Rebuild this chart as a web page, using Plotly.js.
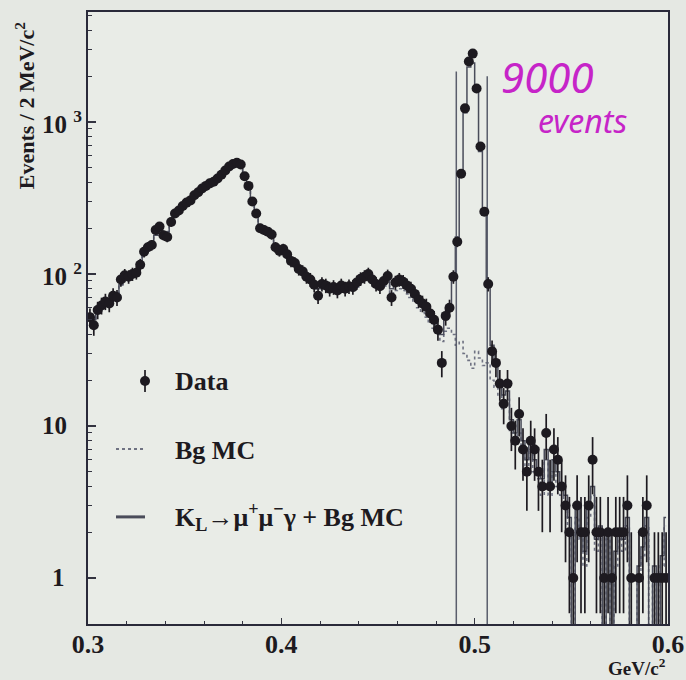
<!DOCTYPE html>
<html><head><meta charset="utf-8">
<script src="https://cdn.plot.ly/plotly-3.0.1.min.js"></script>
<style>html,body{margin:0;padding:0;background:#e5e8e3;} #chart{width:686px;height:680px;}</style>
</head><body><div id="chart"></div>
<script>
// Histogram binning: 2 MeV/c^2 bins from 0.300 to 0.600 GeV/c^2
const binStart = 0.300, binWidth = 0.002, nBins = 150;
const massBins = Array.from({length: nBins}, (_, i) => +(binStart + binWidth * (i + 0.5)).toFixed(4));

// Data: events per bin (null = empty bin)
const dataCounts = [
  52, 46, 58, 62, 66, 64, 72, 70, 92, 98,
  96, 100, 102, 115, 140, 150, 155, 195, 205, 180,
  175, 220, 250, 262, 280, 295, 305, 330, 345, 365,
  380, 395, 405, 425, 450, 480, 510, 530, 540, 525,
  440, 380, 300, 250, 200, 195, 190, 182, 150, 142,
  146, 135, 122, 118, 108, 104, 96, 92, 85, 72,
  86, 84, 80, 82, 78, 84, 80, 83, 82, 88,
  93, 96, 100, 92, 86, 83, 90, 97, 70, 88,
  92, 89, 84, 80, 74, 68, 64, 61, 55, 50,
  43, 26, 53, 60, 96, 163, 457, 1230, 2500, 2820,
  1660, 690, 257, 86, 31, 26, 19, 14, 19, 10,
  8, 12, 7, 5, 8, 7, 5, 4, 9, 4,
  7, 6, 4, 3, 2, 1, 3, 2, 2, 3,
  6, 2, 2, 1, 2, 1, 2, 2, 2, 3,
  1, null, 1, 2, 3, null, 1, 1, 1, 1
];

// K_L -> mu+ mu- gamma + Bg MC (solid histogram)
const mcTotal = [
  50, 50, 55, 60, 63, 66, 68, 75, 85, 95,
  98, 100, 105, 118, 135, 148, 160, 180, 195, 190,
  190, 215, 240, 258, 275, 290, 305, 325, 345, 362,
  378, 392, 405, 425, 450, 478, 505, 525, 535, 520,
  450, 380, 300, 240, 200, 192, 186, 178, 155, 145,
  140, 132, 122, 115, 108, 102, 96, 90, 86, 80,
  82, 83, 81, 80, 80, 82, 82, 83, 84, 86,
  90, 95, 98, 94, 88, 86, 90, 92, 80, 86,
  90, 88, 84, 80, 75, 70, 66, 62, 57, 50,
  45, 40, 50, 62, 100, 175, 450, 1150, 2300, 2450,
  1650, 640, 250, 85, 34, 26, 20, 16, 17, 11,
  9, 11, 8, 6, 8, 6, 5, 4.5, 7, 4,
  6, 5, 4, 3.5, 2.5, 0.3, 3, 2, 1.5, 3,
  4, 1.8, 2.2, 0.3, 2, 0.3, 1.5, 2, 1.8, 2.5,
  0.3, 0.3, 1.2, 1.6, 2.5, 0.3, 1.2, 0.3, 1.4, 2.5
];

// Bg MC (dotted histogram)
const mcBg = [
  50, 50, 55, 60, 63, 66, 68, 75, 85, 95,
  98, 100, 105, 118, 135, 148, 160, 180, 195, 190,
  190, 215, 240, 258, 275, 290, 305, 325, 345, 362,
  378, 392, 405, 425, 450, 478, 505, 525, 535, 520,
  450, 380, 300, 240, 200, 192, 186, 178, 155, 145,
  140, 132, 122, 115, 108, 102, 96, 90, 86, 80,
  80, 81, 79, 78, 78, 80, 80, 80, 81, 82,
  86, 90, 92, 88, 82, 80, 83, 85, 74, 78,
  80, 78, 74, 70, 65, 60, 56, 52, 48, 44,
  40, 36, 42, 44, 40, 34, 36, 30, 27, 24,
  31, 28, 25, 26, 20, 18, 16, 13, 15, 9,
  8, 9, 7, 5, 7, 5, 4.5, 3.5, 6, 3.5,
  5, 4, 3.5, 3, 2, 0.3, 2.5, 1.8, 1.2, 2.5,
  3.5, 1.5, 2, 0.3, 1.8, 0.3, 1.2, 1.8, 1.5, 2.2,
  0.3, 0.3, 1, 1.4, 2.2, 0.3, 1, 0.3, 1.2, 2.2
];

// Signal window lines
const cutMass = [0.4905, 0.5065];
const cutTop = [2150, 2000];
const floorValue = 0.3;

// Axis ticks
const xTickVals = [0.3, 0.4, 0.5, 0.6];
const xTickText = ['0.3', '0.4', '0.5', '0.6'];
const xMinorVals = [0.32, 0.34, 0.36, 0.38, 0.42, 0.44, 0.46, 0.48, 0.52, 0.54, 0.56, 0.58];
const yTickVals = [1, 10, 100, 1000];
const yTickText = ['1', '10', '10 <sup>2</sup>', '10 <sup>3</sup>'];
const yMinorVals = [2,3,4,5,6,7,8,9,20,30,40,50,60,70,80,90,200,300,400,500,600,700,800,900,2000,3000,4000,5000];

// Legend labels
const legendLabels = ['Data', 'Bg MC', 'K<sub>L</sub>\u2192\u03bc<sup>+</sup>\u03bc<sup>\u2212</sup>\u03b3 + Bg MC'];

const dataErr = dataCounts.map(v => v == null ? null : Math.sqrt(v));
const serif = 'Liberation Serif, Times New Roman, serif';
const ink = '#1d1a20';
const magenta = '#c624c8';

const traces = [
  {x: massBins, y: mcBg, type: 'scatter', mode: 'lines',
   line: {shape: 'hvh', dash: 'dot', color: '#6f7282', width: 1.6}, hoverinfo: 'skip'},
  {x: massBins, y: mcTotal, type: 'scatter', mode: 'lines',
   line: {shape: 'hvh', color: '#4a4c5a', width: 1.5}, hoverinfo: 'skip'},
  {x: [cutMass[0], cutMass[0], null, cutMass[1], cutMass[1]],
   y: [floorValue, cutTop[0], null, floorValue, cutTop[1]],
   type: 'scatter', mode: 'lines', line: {color: '#5a5e6c', width: 1.5}, hoverinfo: 'skip'},
  {x: massBins, y: dataCounts, type: 'scatter', mode: 'markers',
   marker: {size: 10, color: ink},
   error_y: {type: 'data', array: dataErr, visible: true, color: ink, thickness: 1.7, width: 0},
   error_x: {type: 'constant', value: binWidth / 2, visible: true, color: ink, thickness: 1.7, width: 0}},
  // legend glyphs (overlay axes spanning the plot area)
  {x: [0.0983], y: [0.397], xaxis: 'x2', yaxis: 'y2', type: 'scatter', mode: 'markers',
   marker: {size: 10, color: ink},
   error_y: {type: 'constant', value: 0.018, color: ink, thickness: 1.7, width: 0}},
  {x: [0.0483, 0.0983], y: [0.286, 0.286], xaxis: 'x2', yaxis: 'y2', type: 'scatter', mode: 'lines',
   line: {dash: 'dot', color: '#6f7282', width: 2}},
  {x: [0.0483, 0.0983], y: [0.175, 0.175], xaxis: 'x2', yaxis: 'y2', type: 'scatter', mode: 'lines',
   line: {color: '#4a4c5a', width: 3}}
];

const tickFont = {family: serif, size: 25, color: ink, weight: 'bold'};
// y tick labels drawn as annotations at the tick values (base of "10" at fixed left)
const yLabelAnn = yTickVals.map((v, i) => ({
  text: yTickText[i], xref: 'paper', yref: 'y', x: i === 0 ? -0.036 : -0.083, y: Math.log10(v),
  xanchor: i === 0 ? 'right' : 'left', yanchor: 'middle', showarrow: false, font: tickFont
}));

const legendFont = {family: serif, size: 26, color: ink, weight: 'bold'};

const layout = {
  width: 686, height: 680,
  margin: {l: 88, r: 18, t: 12, b: 56},
  paper_bgcolor: '#e5e8e3', plot_bgcolor: '#e9ece7',
  showlegend: false,
  xaxis: {
    range: [0.3, 0.6], tickmode: 'array', tickvals: xTickVals, ticktext: xTickText,
    ticks: 'inside', ticklen: 6, tickwidth: 1.5, tickcolor: '#333340',
    minor: {tickmode: 'array', tickvals: xMinorVals, ticks: 'inside', ticklen: 3, tickwidth: 1, tickcolor: '#333340'},
    showline: true, mirror: true, linecolor: '#2a2a3a', linewidth: 2,
    showgrid: false, zeroline: false, ticklabelstandoff: -4,
    tickfont: {family: serif, size: 26, color: ink, weight: 'bold'}
  },
  yaxis: {
    type: 'log', range: [-0.303, 3.724], tickmode: 'array', tickvals: yTickVals,
    showticklabels: false,
    ticks: 'inside', ticklen: 8, tickwidth: 1.5, tickcolor: '#333340',
    minor: {tickmode: 'array', tickvals: yMinorVals, ticks: 'inside', ticklen: 4, tickwidth: 1, tickcolor: '#333340'},
    showline: true, mirror: true, linecolor: '#2a2a3a', linewidth: 2,
    showgrid: false, zeroline: false
  },
  xaxis2: {overlaying: 'x', range: [0, 1], visible: false, fixedrange: true},
  yaxis2: {overlaying: 'y', range: [0, 1], visible: false, fixedrange: true},
  annotations: yLabelAnn.concat([
    {text: 'Events / 2 MeV/c<sup>2</sup>', xref: 'paper', yref: 'paper', x: -0.1086, y: 0.846,
     xanchor: 'center', yanchor: 'middle',
     textangle: -90, showarrow: false, font: {family: serif, size: 22, color: ink, weight: 'bold'}},
    {text: 'GeV/c<sup>2</sup>', xref: 'paper', yref: 'paper', x: 1.0, y: -0.0705, xanchor: 'right', yanchor: 'middle',
     showarrow: false, font: {family: serif, size: 19, color: ink, weight: 'bold'}},
    {text: legendLabels[0], xref: 'paper', yref: 'paper', x: 0.1466, y: 0.397, xanchor: 'left', yanchor: 'middle',
     showarrow: false, font: legendFont},
    {text: legendLabels[1], xref: 'paper', yref: 'paper', x: 0.1466, y: 0.284, xanchor: 'left', yanchor: 'middle',
     showarrow: false, font: legendFont},
    {text: legendLabels[2], xref: 'paper', yref: 'paper', x: 0.1466, y: 0.175, xanchor: 'left', yanchor: 'middle',
     showarrow: false, font: legendFont},
    {text: '9000', xref: 'paper', yref: 'paper', x: 0.793, y: 0.895, xanchor: 'center', yanchor: 'middle', showarrow: false,
     font: {family: 'Noto Sans, DejaVu Sans, sans-serif', size: 42, color: magenta, style: 'italic'}},
    {text: 'events', xref: 'paper', yref: 'paper', x: 0.853, y: 0.823, xanchor: 'center', yanchor: 'middle', showarrow: false,
     font: {family: 'Noto Sans, DejaVu Sans, sans-serif', size: 32, color: magenta, style: 'italic'}}
  ])
};

Plotly.newPlot('chart', traces, layout, {displayModeBar: false, staticPlot: true});
</script>
</body></html>
